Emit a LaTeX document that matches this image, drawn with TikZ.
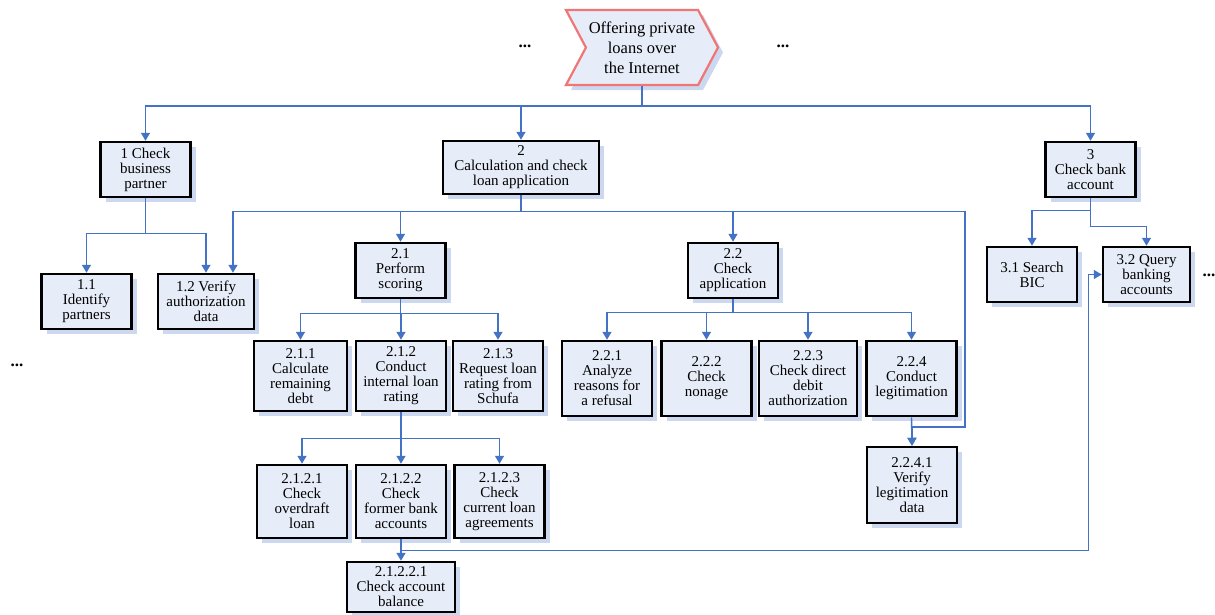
\documentclass[tikz,border=0pt]{standalone}
\usepackage{fontspec}
\setmainfont{Liberation Serif}
\usetikzlibrary{positioning, arrows.meta, shapes.symbols, shadows}
\definecolor{taskfill}{RGB}{231,237,248}
\definecolor{taskshadow}{RGB}{203,216,239}
\definecolor{lineblue}{RGB}{68,114,196}
\definecolor{eventred}{RGB}{240,118,118}

\begin{document}
\begin{tikzpicture}[
    x=1pt, y=-1pt,
    every node/.style={font=\fontsize{15}{15}\selectfont},
    task/.style={
        rectangle,
        draw=black,
        line width=2.5pt,
        align=center,
        inner sep=1pt,
        minimum width=90pt,
        minimum height=55pt,
        fill=taskfill,
        drop shadow={shadow xshift=5pt, shadow yshift=-5pt, fill=taskshadow, opacity=1}
    },
    event/.style={
        signal,
        signal to=east,
        signal from=west,
        signal pointer angle=124,
        draw=eventred,
        line width=2.2pt,
        align=center,
        inner sep=1pt,
        minimum width=152pt,
        minimum height=75pt,
        fill=taskfill,
        font=\fontsize{16.5}{20}\selectfont,
        drop shadow={shadow xshift=5pt, shadow yshift=-5pt, fill=taskshadow, opacity=1}
    },
    more/.style={anchor=base, font=\fontsize{17}{17}\selectfont\bfseries},
    arrow/.style={-{Triangle[length=8pt, width=9pt]}, line width=1.4pt, draw=lineblue}
]
\useasboundingbox (0,0) rectangle (1215,614);

\node[event] (offer) at (642,47.5) {Offering private\\loans over\\the Internet};
\node[more] (moreleft) at (525,47) {...};
\node[more] (moreright) at (783,47) {...};

\node[task] (bp) at (145.5,169.5) {1 Check\\business\\partner};
\node[task] (ip) at (86.5,301.5) {1.1\\Identify\\partners};
\node[task, minimum width=96pt] (va) at (206,301.5) {1.2 Verify\\authorization\\data};
\node[more] (moreside) at (17,366) {...};

\node[task, minimum width=156pt, minimum height=53pt] (cl) at (521,167.5) {2\\Calculation and check\\loan application};
\node[task] (ps) at (400.5,270.5) {2.1\\Perform\\scoring};
\node[task] (ca) at (733,270.5) {2.2\\Check\\application};

\node[task, minimum width=93pt, minimum height=70pt] (rd) at (300.5,376) {2.1.1\\Calculate\\remaining\\debt};
\node[task, minimum height=70pt] (ir) at (401,376) {2.1.2\\Conduct\\internal loan\\rating};
\node[task, minimum height=70pt] (sr) at (498,376) {2.1.3\\Request loan\\rating from\\Schufa};

\node[task, minimum height=75pt] (ar) at (607,378.5) {2.2.1\\Analyze\\reasons for\\a refusal};
\node[task, minimum height=75pt] (cn) at (706.5,378.5) {2.2.2\\Check\\nonage};
\node[task, minimum width=98pt, minimum height=75pt] (dd) at (808,378.5) {2.2.3\\Check direct\\debit\\authorization};
\node[task, minimum height=75pt] (cg) at (911.5,378.5) {2.2.4\\Conduct\\legitimation};
\node[task, minimum height=76pt] (vl) at (912,485) {2.2.4.1\\Verify\\legitimation\\data};

\node[task, minimum height=73pt] (ol) at (302,501.5) {2.1.2.1\\Check\\overdraft\\loan};
\node[task, minimum height=73pt] (fb) at (401,501.5) {2.1.2.2\\Check\\former bank\\accounts};
\node[task, minimum height=73pt] (la) at (499.5,501.5) {2.1.2.3\\Check\\current loan\\agreements};
\node[task, minimum width=108pt, minimum height=50pt] (ab) at (401,587) {2.1.2.2.1\\Check account\\balance};

\node[task] (cb) at (1090.5,169.5) {3\\Check bank\\account};
\node[task] (sb) at (1032,274.5) {3.1 Search\\BIC};
\node[task, minimum width=87pt] (qb) at (1146.5,274.5) {3.2 Query\\banking\\accounts};
\node[more] (moreqb) at (1209,276) {...};

\coordinate (loopcg) at (965,427);

\draw[arrow] (offer.south) -- ++(0,20) -| (bp.north);
\draw[arrow] (offer.south) -- ++(0,20) -| (cl.north);
\draw[arrow] (offer.south) -- ++(0,20) -| (cb.north);

\draw[arrow] (bp.south) -- ++(0,35) -| (ip.north);
\draw[arrow] (bp.south) -- ++(0,35) -| (va.north);

\draw[arrow] (cl.south) -- ++(0,16) -| ([xshift=27pt]va.north);
\draw[arrow] (cl.south) -- ++(0,16) -| (ps.north);
\draw[arrow] (cl.south) -- ++(0,16) -| (ca.north);
\draw[arrow] (cl.south) -- ++(0,16) -| (loopcg) -| (vl.north);

\draw[arrow] (ps.south) -- ++(0,14) -| (rd.north);
\draw[arrow] (ps.south) -- ++(0,14) -| (ir.north);
\draw[arrow] (ps.south) -- ++(0,14) -| (sr.north);

\draw[arrow] (ca.south) -- ++(0,13) -| (ar.north);
\draw[arrow] (ca.south) -- ++(0,13) -| (cn.north);
\draw[arrow] (ca.south) -- ++(0,13) -| (dd.north);
\draw[arrow] (ca.south) -- ++(0,13) -| (cg.north);
\draw[arrow] (cg.south) -- (vl.north);

\draw[arrow] (ir.south) -- ++(0,26) -| (ol.north);
\draw[arrow] (ir.south) -- ++(0,26) -| (fb.north);
\draw[arrow] (ir.south) -- ++(0,26) -| (la.north);

\draw[arrow] (fb.south) -- (ab.north);
\draw[arrow] (fb.south) -- ++(0,11) -| ([xshift=-13pt]qb.west) -- (qb.west);

\draw[arrow] (cb.south) -- ++(0,12) -| (sb.north);
\draw[arrow] (cb.south) -- ++(0,28) -| (qb.north);

\end{tikzpicture}
\end{document}
